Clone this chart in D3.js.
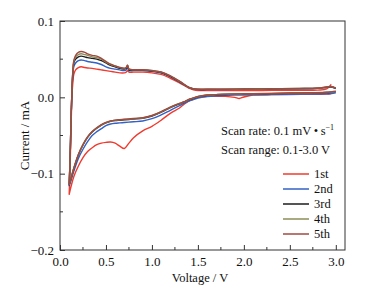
<!DOCTYPE html>
<html><head><meta charset="utf-8">
<script src="https://cdn.jsdelivr.net/npm/d3@7"></script>
<style>html,body{margin:0;padding:0;background:#fff;}svg{display:block;}</style>
</head><body>
<svg id="chart" width="380" height="296"></svg>
<script>
// Voltage grids (V)
const vCath = [3.0,2.95,2.9,2.7,2.5,2.3,2.1,2.0,1.95,1.9,1.8,1.7,1.6,1.5,1.45,1.4,1.35,1.3,1.2,1.1,1.0,0.9,0.8,0.75,0.7,0.65,0.6,0.55,0.5,0.45,0.4,0.35,0.3,0.25,0.2,0.15,0.12,0.1];
const vAnod = [0.1,0.11,0.12,0.13,0.14,0.15,0.17,0.2,0.23,0.27,0.3,0.35,0.4,0.45,0.5,0.55,0.6,0.65,0.7,0.72,0.735,0.75,0.8,0.9,1.0,1.1,1.2,1.3,1.4,1.45,1.5,1.6,1.8,2.0,2.2,2.4,2.6,2.8,2.9,2.95,3.0];

// Currents (mA) — cathodic scan
const cath1 = [null,0.005,0.0042,0.004,0.0038,0.0035,0.003,0.0005,-0.0015,0.0,0.0013,0.0013,0.0012,0.0005,-0.0025,-0.005,-0.009,-0.014,-0.021,-0.030,-0.038,-0.044,-0.053,-0.060,-0.067,-0.064,-0.060,-0.0585,-0.059,-0.060,-0.062,-0.066,-0.071,-0.079,-0.090,-0.104,-0.117,-0.127];
const cath2 = [0.006,0.005,0.0045,0.0042,0.004,0.0035,0.0032,0.003,0.003,0.003,0.0025,0.002,0.001,-0.001,-0.003,-0.005,-0.008,-0.011,-0.017,-0.023,-0.028,-0.031,-0.032,-0.0325,-0.033,-0.0335,-0.034,-0.035,-0.037,-0.041,-0.045,-0.050,-0.058,-0.068,-0.080,-0.097,-0.109,-0.116];
const cath3 = [0.0075,0.0068,0.0063,0.0058,0.0053,0.0049,0.0046,0.0044,0.0043,0.0042,0.0038,0.0033,0.0027,0.0008,-0.0012,-0.0032,-0.0062,-0.0085,-0.0135,-0.0195,-0.0245,-0.0275,-0.0285,-0.029,-0.0295,-0.030,-0.0305,-0.0315,-0.0335,-0.0365,-0.0405,-0.0455,-0.0525,-0.0625,-0.0755,-0.0935,-0.1065,-0.1145];
const cath4 = [0.0078,0.007,0.0065,0.006,0.0055,0.005,0.0047,0.0045,0.0044,0.0043,0.004,0.0035,0.003,0.001,-0.001,-0.003,-0.006,-0.008,-0.013,-0.019,-0.024,-0.027,-0.028,-0.0285,-0.029,-0.0295,-0.030,-0.031,-0.033,-0.036,-0.040,-0.045,-0.052,-0.062,-0.075,-0.093,-0.106,-0.114];
const cath5 = [0.008,0.0072,0.0066,0.0061,0.0056,0.0051,0.0048,0.0046,0.0045,0.0044,0.0041,0.0036,0.0031,0.0012,-0.0008,-0.0028,-0.0058,-0.0078,-0.0128,-0.0188,-0.0238,-0.0268,-0.0278,-0.0283,-0.0288,-0.0293,-0.0298,-0.0308,-0.0328,-0.0358,-0.0398,-0.0448,-0.0518,-0.0618,-0.0748,-0.0928,-0.1058,-0.1138];

// Currents (mA) — anodic scan
const anod1 = [-0.127,-0.09,-0.04,0.0,0.02,0.030,0.036,0.039,0.040,0.039,0.0385,0.038,0.037,0.036,0.035,0.034,0.033,0.032,0.032,0.033,0.035,0.033,0.033,0.033,0.032,0.030,0.025,0.019,0.012,0.010,0.009,0.009,0.009,0.009,0.009,0.0092,0.0093,0.0095,0.011,0.017,null];
const anod2 = [-0.116,-0.08,-0.03,0.008,0.030,0.040,0.045,0.048,0.049,0.048,0.047,0.046,0.045,0.043,0.040,0.038,0.037,0.036,0.035,0.036,0.039,0.035,0.035,0.035,0.034,0.032,0.027,0.020,0.013,0.011,0.0102,0.0102,0.0102,0.0105,0.0107,0.011,0.0112,0.0117,0.013,0.0135,0.0115];
const anod3 = [-0.1145,-0.08,-0.03,0.009,0.033,0.045,0.050,0.053,0.054,0.053,0.052,0.051,0.050,0.048,0.045,0.042,0.040,0.038,0.037,0.038,0.041,0.036,0.0355,0.0355,0.0345,0.0325,0.0275,0.0205,0.013,0.011,0.0104,0.0104,0.0104,0.0107,0.0109,0.0111,0.0114,0.0119,0.0133,0.0138,0.0118];
const anod4 = [-0.114,-0.08,-0.03,0.01,0.034,0.047,0.053,0.056,0.057,0.056,0.055,0.053,0.052,0.050,0.046,0.043,0.041,0.039,0.038,0.039,0.042,0.037,0.036,0.036,0.035,0.033,0.028,0.021,0.013,0.011,0.0105,0.0105,0.0105,0.0108,0.011,0.0112,0.0115,0.012,0.0135,0.014,0.012];
const anod5 = [-0.1138,-0.08,-0.03,0.01,0.035,0.048,0.055,0.059,0.060,0.059,0.057,0.055,0.054,0.051,0.047,0.0435,0.0412,0.0392,0.0382,0.0392,0.0422,0.0372,0.0362,0.0362,0.0352,0.0332,0.0282,0.0212,0.0132,0.0112,0.0106,0.0106,0.0106,0.0109,0.0111,0.0113,0.0116,0.0121,0.0136,0.0141,0.0121];

const cycleLabels = ["1st","2nd","3rd","4th","5th"];
const cycleColors = ["#f03a2e","#3462c4","#1c1c1c","#8d8c58","#a04a40"];
const cathSeries = [cath1,cath2,cath3,cath4,cath5];
const anodSeries = [anod1,anod2,anod3,anod4,anod5];

const xTicks = [0.0,0.5,1.0,1.5,2.0,2.5,3.0];
const yTicks = [-0.2,-0.1,0.0,0.1];
const xMinor = [0.25,0.75,1.25,1.75,2.25,2.75];
const yMinor = [-0.15,-0.05,0.05];

const svg = d3.select("#chart");
const L = 60, R = 345, T = 21, B = 250;
const x = d3.scaleLinear().domain([0, 3.1]).range([L, R]);
const y = d3.scaleLinear().domain([-0.2, 0.1]).range([B, T]);
const font = "'Liberation Serif','Times New Roman',serif";

// curves
const line = d3.line()
  .defined(d => d[1] !== null)
  .x(d => x(d[0])).y(d => y(d[1]))
  .curve(d3.curveCatmullRom.alpha(0.5));

const plot = svg.append("g");
cathSeries.forEach((c, i) => {
  const pts = vCath.map((v, k) => [v, c[k]]).concat(vAnod.map((v, k) => [v, anodSeries[i][k]]));
  plot.append("path").datum(pts)
    .attr("d", line).attr("fill", "none")
    .attr("stroke", cycleColors[i]).attr("stroke-width", 1.4)
    .attr("stroke-linejoin", "round");
});

// frame
svg.append("rect").attr("x", L).attr("y", T).attr("width", R - L).attr("height", B - T)
  .attr("fill", "none").attr("stroke", "#333").attr("stroke-width", 1);

// axes (ticks inward)
const xAxis = d3.axisBottom(x).tickValues(xTicks).tickSize(-5).tickPadding(7).tickFormat(d3.format(".1f"));
const gx = svg.append("g").attr("transform", `translate(0,${B})`).call(xAxis);
const yAxis = d3.axisLeft(y).tickValues(yTicks).tickSize(-5).tickPadding(6)
  .tickFormat(d => d3.format(".1f")(d).replace("-", "\u2212"));
const gy = svg.append("g").attr("transform", `translate(${L},0)`).call(yAxis);
[gx, gy].forEach(g => {
  g.select(".domain").remove();
  g.selectAll(".tick line").attr("stroke", "#333");
  g.selectAll("text").attr("font-family", font).attr("font-size", 13).attr("fill", "#111");
});
gx.append("g").selectAll("line").data(xMinor).join("line")
  .attr("x1", d => x(d)).attr("x2", d => x(d)).attr("y1", 0).attr("y2", -3).attr("stroke", "#333");
gy.append("g").selectAll("line").data(yMinor).join("line")
  .attr("y1", d => y(d)).attr("y2", d => y(d)).attr("x1", 0).attr("x2", 3).attr("stroke", "#333");

// axis titles
svg.append("text").attr("x", 200).attr("y", 282).attr("text-anchor", "middle")
  .attr("font-family", font).attr("font-size", 12.5).attr("fill", "#111").text("Voltage / V");
svg.append("text").attr("transform", `translate(29,${(T + B) / 2}) rotate(-90)`).attr("text-anchor", "middle")
  .attr("font-family", font).attr("font-size", 13).attr("fill", "#111").text("Current / mA");

// annotations
const ann1 = svg.append("text").attr("x", 221).attr("y", 135).attr("font-family", font).attr("font-size", 12.5).attr("fill", "#111");
ann1.append("tspan").text("Scan rate: 0.1 mV\u2009\u2022\u2009s");
ann1.append("tspan").attr("dy", -5).attr("font-size", 8).text("\u22121");
svg.append("text").attr("x", 221).attr("y", 153.5).attr("font-family", font).attr("font-size", 12.5).attr("fill", "#111")
  .text("Scan range: 0.1-3.0 V");

// legend
const leg = svg.append("g");
cycleLabels.forEach((lab, i) => {
  const yy = 174 + i * 15;
  leg.append("line").attr("x1", 283).attr("x2", 309).attr("y1", yy).attr("y2", yy)
    .attr("stroke", cycleColors[i]).attr("stroke-width", 1.5);
  leg.append("text").attr("x", 314).attr("y", yy + 4).attr("font-family", font).attr("font-size", 12.5)
    .attr("fill", "#111").text(lab);
});
</script>
</body></html>
